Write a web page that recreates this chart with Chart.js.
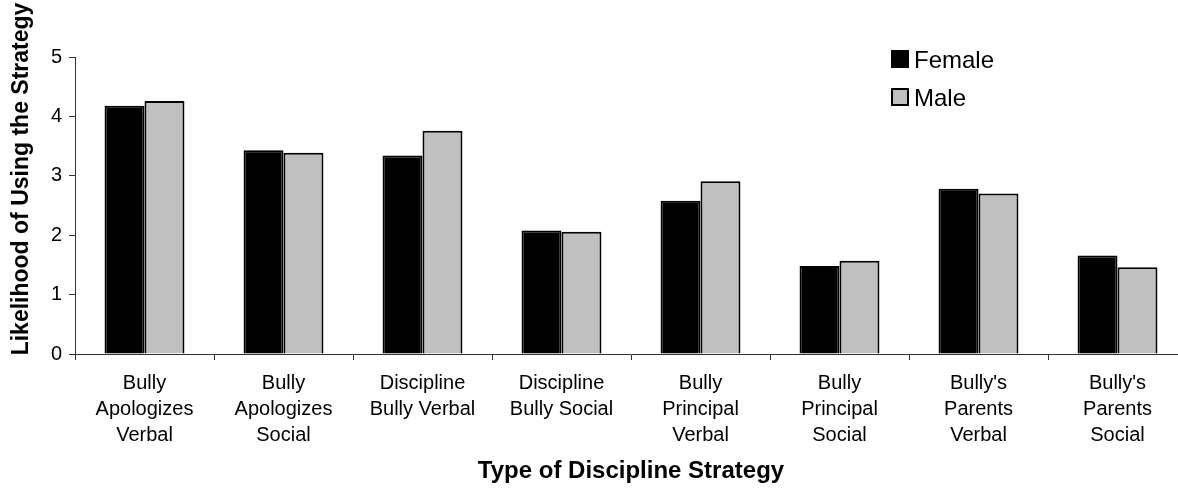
<!DOCTYPE html>
<html>
<head>
<meta charset="utf-8">
<script src="https://cdn.jsdelivr.net/npm/chart.js@4/dist/chart.umd.min.js"></script>
<style>
  html, body { margin: 0; padding: 0; background: #fff; overflow: hidden; }
  #wrap { position: relative; width: 1187px; height: 496px; }
</style>
</head>
<body>
<div id="wrap"><canvas id="c" width="1187" height="496"></canvas></div>
<script>
// Discipline strategies (x categories), one multi-line label per bar group
const categories = [
  ['Bully', 'Apologizes', 'Verbal'],
  ['Bully', 'Apologizes', 'Social'],
  ['Discipline', 'Bully Verbal'],
  ['Discipline', 'Bully Social'],
  ['Bully', 'Principal', 'Verbal'],
  ['Bully', 'Principal', 'Social'],
  ["Bully's", 'Parents', 'Verbal'],
  ["Bully's", 'Parents', 'Social']
];

// Mean likelihood ratings by gender
const femaleValues = [4.18, 3.43, 3.34, 2.08, 2.58, 1.48, 2.78, 1.66];
const maleValues   = [4.26, 3.39, 3.76, 2.06, 2.91, 1.57, 2.70, 1.46];

// Value axis ticks
const yTicks = [0, 1, 2, 3, 4, 5];

const yTitle = 'Likelihood of Using the Strategy';
const xTitle = 'Type of Discipline Strategy';

const FONT = '"Liberation Sans", Arial, sans-serif';
const AXIS = '#333333';

// Vertical legend in the upper right of the plot
const boxLegend = {
  id: 'boxLegend',
  afterDraw(chart) {
    const ctx = chart.ctx;
    ctx.save();
    ctx.font = '24px ' + FONT;
    ctx.textBaseline = 'alphabetic';
    ctx.textAlign = 'left';
    chart.data.datasets.forEach((ds, i) => {
      const top = 51 + i * 38;
      ctx.fillStyle = ds.backgroundColor;
      ctx.fillRect(892, top, 16, 16);
      ctx.lineWidth = 2;
      ctx.strokeStyle = '#000';
      ctx.strokeRect(892, top, 16, 16);
      ctx.fillStyle = '#000';
      ctx.fillText(ds.label, 914, top + 17);
    });
    ctx.restore();
  }
};

// Rotated value-axis title
const sideTitle = {
  id: 'sideTitle',
  afterDraw(chart) {
    const ctx = chart.ctx;
    ctx.save();
    ctx.translate(22, 179);
    ctx.rotate(-Math.PI / 2);
    ctx.font = 'bold 23px ' + FONT;
    ctx.fillStyle = '#000';
    ctx.textAlign = 'center';
    ctx.textBaseline = 'middle';
    ctx.fillText(yTitle, 0, 0);
    ctx.restore();
  }
};

new Chart(document.getElementById('c'), {
  type: 'bar',
  data: {
    labels: categories,
    datasets: [
      { label: 'Female', data: femaleValues, backgroundColor: '#000000',
        borderColor: '#000000', borderWidth: 2 },
      { label: 'Male', data: maleValues, backgroundColor: '#c0c0c0',
        borderColor: '#000000', borderWidth: 2 }
    ]
  },
  options: {
    responsive: false,
    animation: false,
    devicePixelRatio: 1,
    layout: { padding: { top: 57, right: 0, left: 0, bottom: 0 } },
    datasets: { bar: { categoryPercentage: 0.575, barPercentage: 1.0 } },
    plugins: { legend: { display: false }, tooltip: { enabled: false } },
    scales: {
      x: {
        offset: true,
        grid: { offset: true, drawOnChartArea: false, tickLength: 6, color: AXIS, tickColor: AXIS },
        border: { color: AXIS, width: 1 },
        ticks: { color: '#000', font: { family: FONT, size: 20, lineHeight: 1.3 },
                 padding: 10, maxRotation: 0, autoSkip: false },
        title: { display: true, text: xTitle, color: '#000',
                 font: { family: FONT, size: 24, weight: 'bold' }, padding: { top: 0, bottom: 10 } },
        afterFit(scale) { scale.height = 142; }
      },
      y: {
        min: 0, max: 5,
        afterBuildTicks(scale) { scale.ticks = yTicks.map(v => ({ value: v })); },
        grid: { drawOnChartArea: false, tickLength: 6, color: AXIS, tickColor: AXIS },
        border: { color: AXIS, width: 1 },
        ticks: { color: '#000', font: { family: FONT, size: 20 }, padding: 7 },
        afterFit(scale) { scale.width = 75; }
      }
    }
  },
  plugins: [boxLegend, sideTitle]
});
</script>
</body>
</html>
